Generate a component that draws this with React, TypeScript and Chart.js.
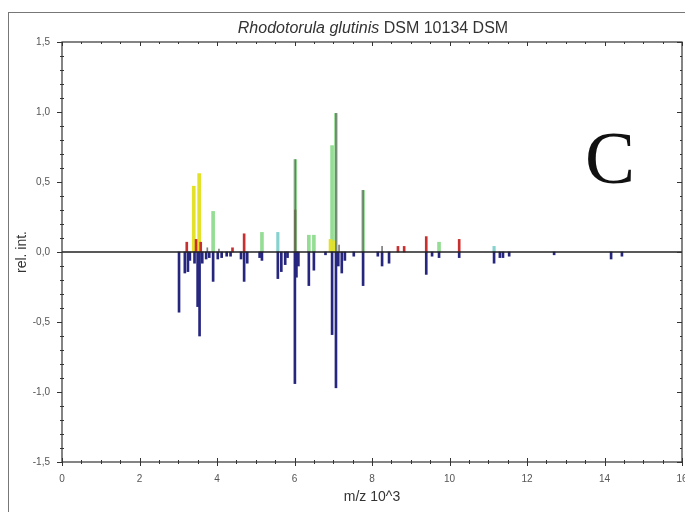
import React, { useEffect, useRef } from "react";
import { Chart, registerables } from "chart.js";
Chart.register(...registerables);

// m/z (x 10^3) and relative intensity for each colour group
const yellowMz = [3.4, 3.54, 6.93, 7.02];
const yellowInt = [0.47, 0.56, 0.09, 0.08];
const greenMz = [3.9, 5.16, 6.02, 6.37, 6.5, 6.97, 7.07, 7.77, 9.73];
const greenInt = [0.29, 0.14, 0.66, 0.12, 0.12, 0.76, 0.99, 0.44, 0.07];
const cyanMz = [5.57, 11.15];
const cyanInt = [0.14, 0.04];
const redMz = [3.22, 3.46, 3.58, 4.4, 4.7, 8.67, 8.83, 9.4, 10.25];
const redInt = [0.07, 0.09, 0.07, 0.03, 0.13, 0.04, 0.04, 0.11, 0.09];
const grayMz = [3.75, 4.05, 6.02, 7.07, 7.15, 7.77, 8.26];
const grayInt = [0.03, 0.02, 0.66, 0.99, 0.05, 0.44, 0.04];
const darkMz = [6.02];
const darkInt = [0.3];
const blueMz = [
  3.02, 3.17, 3.25, 3.3, 3.42, 3.5, 3.55, 3.62, 3.72, 3.8, 3.9, 4.02, 4.12, 4.25,
  4.35, 4.62, 4.7, 4.78, 5.1, 5.16, 5.57, 5.66, 5.76, 5.82, 6.01, 6.05, 6.1, 6.37,
  6.5, 6.8, 6.97, 7.07, 7.13, 7.22, 7.3, 7.53, 7.77, 8.15, 8.26, 8.44, 9.4, 9.55,
  9.73, 10.25, 11.15, 11.3, 11.38, 11.54, 12.7, 14.17, 14.45,
];
const blueInt = [
  -0.43, -0.15, -0.14, -0.06, -0.08, -0.39, -0.6, -0.08, -0.05, -0.04, -0.21, -0.05,
  -0.04, -0.03, -0.03, -0.05, -0.21, -0.08, -0.04, -0.06, -0.19, -0.14, -0.09, -0.04,
  -0.94, -0.18, -0.1, -0.24, -0.13, -0.02, -0.59, -0.97, -0.1, -0.15, -0.06, -0.03,
  -0.24, -0.03, -0.1, -0.08, -0.16, -0.03, -0.04, -0.04, -0.08, -0.04, -0.04, -0.03,
  -0.02, -0.05, -0.03,
];

const xMin = 0;
const xMax = 16;
const xStep = 2;
const yMin = -1.5;
const yMax = 1.5;
const yStep = 0.5;

const pts = (mz: number[], v: number[]) => mz.map((m, i) => ({ x: m, y: v[i] }));

const framePlugin = {
  id: "frame",
  afterDatasetsDraw(chart: any) {
    const { ctx, chartArea: a, scales } = chart;
    const xs = scales.x;
    const ys = scales.y;
    ctx.save();
    const y0 = ys.getPixelForValue(0);
    ctx.strokeStyle = "#222";
    ctx.lineWidth = 1.5;
    ctx.beginPath();
    ctx.moveTo(a.left, y0);
    ctx.lineTo(a.right, y0);
    ctx.stroke();
    ctx.strokeStyle = "#333";
    ctx.lineWidth = 1.2;
    ctx.strokeRect(a.left, a.top, a.right - a.left, a.bottom - a.top);
    ctx.lineWidth = 1;
    ctx.beginPath();
    for (let i = 0; i <= 30; i++) {
      const v = yMin + i * 0.1;
      const p = Math.round(ys.getPixelForValue(v)) + 0.5;
      const major = i % 5 === 0;
      const l = major ? 5 : 2;
      ctx.moveTo(a.left - l, p);
      ctx.lineTo(a.left + (major ? 0 : 2), p);
      ctx.moveTo(a.right - l, p);
      ctx.lineTo(a.right, p);
    }
    for (let i = 0; i <= 32; i++) {
      const v = xMin + i * 0.5;
      const p = Math.round(xs.getPixelForValue(v)) + 0.5;
      const major = i % 4 === 0;
      const l = major ? 4 : 2;
      ctx.moveTo(p, a.bottom - l);
      ctx.lineTo(p, a.bottom + l);
      ctx.moveTo(p, a.top);
      ctx.lineTo(p, a.top + l);
    }
    ctx.stroke();
    ctx.restore();
  },
};

export default function App() {
  const ref = useRef<HTMLCanvasElement | null>(null);
  useEffect(() => {
    if (!ref.current) return;
    const chart = new Chart(ref.current, {
      type: "bar",
      data: {
        datasets: [
          { data: pts(darkMz, darkInt), backgroundColor: "#6a6a50", barThickness: 1.5 },
          { data: pts(grayMz, grayInt), backgroundColor: "rgba(110,110,110,0.9)", barThickness: 1 },
          { data: pts(redMz, redInt), backgroundColor: "#c83030", barThickness: 2 },
          { data: pts(blueMz, blueInt), backgroundColor: "#26267f", barThickness: 2 },
          { data: pts(cyanMz, cyanInt), backgroundColor: "#86d2cf", barThickness: 2.5 },
          { data: pts(yellowMz, yellowInt), backgroundColor: "#e3e12a", barThickness: 3 },
          { data: pts(greenMz, greenInt), backgroundColor: "rgba(130,215,130,0.85)", barThickness: 3 },
        ],
      } as any,
      options: {
        animation: false,
        responsive: true,
        maintainAspectRatio: false,
        layout: { padding: { top: 42, right: 3, left: 0, bottom: 0 } },
        plugins: { legend: { display: false }, tooltip: { enabled: false }, title: { display: false } },
        datasets: { bar: { grouped: false } } as any,
        scales: {
          x: {
            type: "linear",
            min: xMin,
            max: xMax,
            offset: false,
            grid: { display: false },
            border: { display: false },
            ticks: {
              stepSize: xStep,
              padding: 3,
              color: "#555",
              font: { family: "Liberation Sans", size: 10 },
              maxRotation: 0,
            },
            title: {
              display: true,
              text: "m/z 10^3",
              color: "#333",
              font: { family: "Liberation Sans", size: 14 },
              padding: { bottom: 6, top: 0 },
            },
            afterFit(s: any) {
              s.height = 50;
              s.paddingLeft = 0;
              s.paddingRight = 0;
            },
          },
          y: {
            min: yMin,
            max: yMax,
            grid: { display: false },
            border: { display: false },
            ticks: {
              stepSize: yStep,
              padding: 4,
              color: "#555",
              font: { family: "Liberation Sans", size: 10 },
              callback: (v: any) => Number(v).toFixed(1).replace(".", ","),
            },
            title: {
              display: true,
              text: "rel. int.",
              color: "#333",
              font: { family: "Liberation Sans", size: 14 },
              padding: { top: 14, bottom: 0 },
            },
            afterFit(s: any) {
              s.width = 62;
            },
          },
        },
      } as any,
      plugins: [framePlugin],
    });
    return () => chart.destroy();
  }, []);

  return (
    <div style={{ position: "fixed", left: 0, top: 0, width: 685, height: 512, background: "#fff", overflow: "hidden" }}>
      <div style={{ position: "absolute", left: 8, top: 12, width: 700, height: 520, borderLeft: "1px solid #777", borderTop: "1px solid #777" }} />
      <canvas ref={ref} style={{ position: "absolute", left: 0, top: 0 }} />
      <div
        style={{
          position: "absolute",
          left: 0,
          width: 746,
          top: 19,
          height: 18,
          lineHeight: "18px",
          textAlign: "center",
          fontFamily: "Liberation Sans",
          fontSize: 16,
          color: "#333",
          whiteSpace: "nowrap",
        }}
      >
        <i>Rhodotorula glutinis</i> DSM 10134 DSM
      </div>
      <div
        style={{
          position: "absolute",
          left: 585,
          top: 120,
          fontFamily: "Liberation Serif",
          fontSize: 75,
          lineHeight: "75px",
          color: "#111",
        }}
      >
        C
      </div>
    </div>
  );
}
